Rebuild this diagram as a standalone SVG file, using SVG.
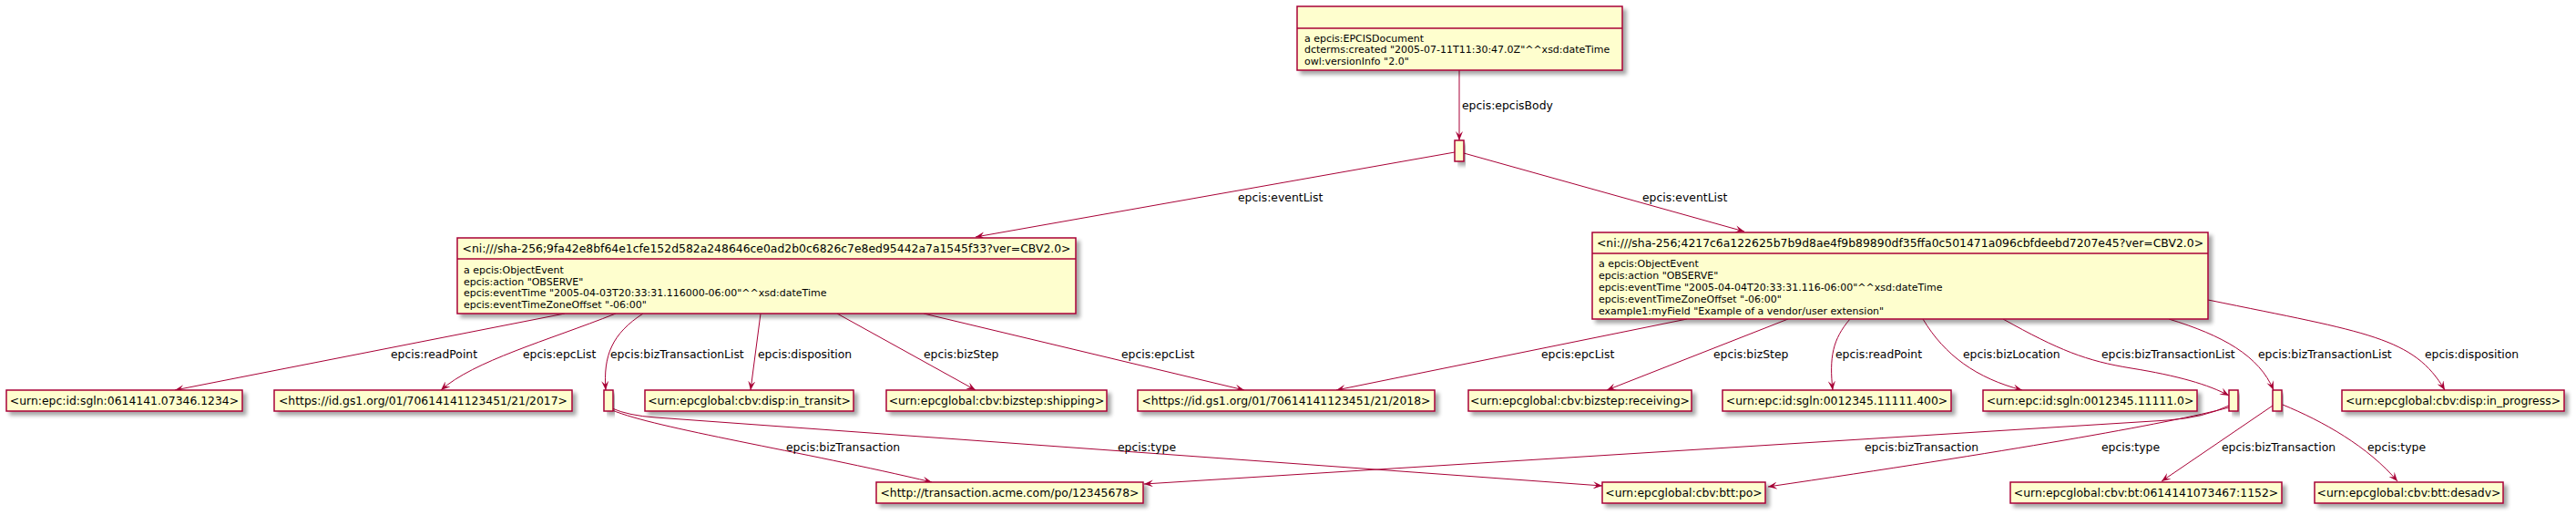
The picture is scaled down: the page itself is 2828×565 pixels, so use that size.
<svg xmlns="http://www.w3.org/2000/svg" width="2828" height="565" viewBox="0 0 2828 565">
<style>
.box{fill:#FEFECE;stroke:#A80036;stroke-width:1.5;filter:url(#sh)}
.sep{stroke:#A80036;stroke-width:1.5}
.e{fill:none;stroke:#A80036;stroke-width:1;marker-end:url(#ah)}
text{font-family:"DejaVu Sans","Liberation Sans",sans-serif;fill:#000}
.n{font-size:12.4px;text-anchor:middle}
.a{font-size:11px}
.l{font-size:12.4px}
</style>
<defs>
<filter id="sh" x="-10%" y="-30%" width="130%" height="180%">
<feGaussianBlur in="SourceAlpha" stdDeviation="2"/>
<feOffset dx="4" dy="4" result="b"/>
<feComponentTransfer><feFuncA type="linear" slope="0.35"/></feComponentTransfer>
<feMerge><feMergeNode/><feMergeNode in="SourceGraphic"/></feMerge>
</filter>
<marker id="ah" viewBox="0 0 10 8" refX="10" refY="4" markerWidth="10" markerHeight="8" orient="auto" markerUnits="userSpaceOnUse"><path d="M0,0 L10,4 L0,8 L4,4 Z" fill="#A80036"/></marker>
</defs>
<rect width="2828" height="565" fill="#FFFFFF"/>

<g id="connectors">
<path class="e" d="M1602,77 L1602,154"/>
<path class="e" d="M1597,167 L1071,260"/>
<path class="e" d="M1607,168 L1915,254"/>
<path class="e" d="M620,344 L192,428"/>
<path class="e" d="M676,344 C600,374 520,396 484,428"/>
<path class="e" d="M706,344 C672,366 662,390 665,428"/>
<path class="e" d="M835,344 L824,428"/>
<path class="e" d="M919,344 L1071,428"/>
<path class="e" d="M1014,344 L1366,428"/>
<path class="e" d="M1852,350 L1467,428"/>
<path class="e" d="M1963,350 L1764,428"/>
<path class="e" d="M2031,350 C2012,372 2008,392 2012,428"/>
<path class="e" d="M2111,350 C2135,390 2170,415 2220,428"/>
<path class="e" d="M2199,350 C2260,384 2290,396 2340,404 C2390,412 2425,422 2447,434"/>
<path class="e" d="M2381,350 C2440,368 2480,390 2496,428"/>
<path class="e" d="M2424,329 C2600,365 2650,370 2684,428"/>
<path class="e" d="M672,450 C720,470 880,495 1023,529"/>
<path class="e" d="M672,448 Q690,456 720,458 L1759,533"/>
<path class="e" d="M2447,445 Q2420,458 2380,461 L1256,531"/>
<path class="e" d="M2447,447 C2380,465 2200,496 1941,534"/>
<path class="e" d="M2495,445 L2373,528"/>
<path class="e" d="M2506,444 C2550,462 2600,490 2632,528"/>
<text class="l" x="1605" y="120">epcis:epcisBody</text>
<text class="l" x="1359" y="221">epcis:eventList</text>
<text class="l" x="1803" y="221">epcis:eventList</text>
<text class="l" x="429" y="393">epcis:readPoint</text>
<text class="l" x="574" y="393">epcis:epcList</text>
<text class="l" x="670" y="393">epcis:bizTransactionList</text>
<text class="l" x="832" y="393">epcis:disposition</text>
<text class="l" x="1014" y="393">epcis:bizStep</text>
<text class="l" x="1231" y="393">epcis:epcList</text>
<text class="l" x="1692" y="393">epcis:epcList</text>
<text class="l" x="1881" y="393">epcis:bizStep</text>
<text class="l" x="2015" y="393">epcis:readPoint</text>
<text class="l" x="2155" y="393">epcis:bizLocation</text>
<text class="l" x="2307" y="393">epcis:bizTransactionList</text>
<text class="l" x="2479" y="393">epcis:bizTransactionList</text>
<text class="l" x="2662" y="393">epcis:disposition</text>
<text class="l" x="863" y="495">epcis:bizTransaction</text>
<text class="l" x="1227" y="495">epcis:type</text>
<text class="l" x="2047" y="495">epcis:bizTransaction</text>
<text class="l" x="2307" y="495">epcis:type</text>
<text class="l" x="2439" y="495">epcis:bizTransaction</text>
<text class="l" x="2599" y="495">epcis:type</text>
</g>

<g id="doc">
<rect class="box" x="1424" y="7" width="357" height="70"/>
<line class="sep" x1="1424" y1="31" x2="1781" y2="31"/>
<text class="a" x="1432" y="45.5">a epcis:EPCISDocument</text>
<text class="a" x="1432" y="58">dcterms:created "2005-07-11T11:30:47.0Z"^^xsd:dateTime</text>
<text class="a" x="1432" y="70.5">owl:versionInfo "2.0"</text>
</g>

<g id="j1"><rect class="box" x="1597" y="154" width="10" height="23"/></g>

<g id="event1">
<rect class="box" x="502" y="261" width="679" height="83"/>
<line class="sep" x1="502" y1="284" x2="1181" y2="284"/>
<text class="n" x="841.5" y="277">&lt;ni:///sha-256;9fa42e8bf64e1cfe152d582a248646ce0ad2b0c6826c7e8ed95442a7a1545f33?ver=CBV2.0&gt;</text>
<text class="a" x="509" y="300">a epcis:ObjectEvent</text>
<text class="a" x="509" y="312.5">epcis:action "OBSERVE"</text>
<text class="a" x="509" y="325">epcis:eventTime "2005-04-03T20:33:31.116000-06:00"^^xsd:dateTime</text>
<text class="a" x="509" y="338">epcis:eventTimeZoneOffset "-06:00"</text>
</g>

<g id="event2">
<rect class="box" x="1748" y="255" width="676" height="95"/>
<line class="sep" x1="1748" y1="278" x2="2424" y2="278"/>
<text class="n" x="2086" y="271">&lt;ni:///sha-256;4217c6a122625b7b9d8ae4f9b89890df35ffa0c501471a096cbfdeebd7207e45?ver=CBV2.0&gt;</text>
<text class="a" x="1755" y="293">a epcis:ObjectEvent</text>
<text class="a" x="1755" y="306">epcis:action "OBSERVE"</text>
<text class="a" x="1755" y="319">epcis:eventTime "2005-04-04T20:33:31.116-06:00"^^xsd:dateTime</text>
<text class="a" x="1755" y="332">epcis:eventTimeZoneOffset "-06:00"</text>
<text class="a" x="1755" y="344.5">example1:myField "Example of a vendor/user extension"</text>
</g>

<g id="sgln1234"><rect class="box" x="7" y="428" width="259" height="23"/><text class="n" x="136.5" y="444">&lt;urn:epc:id:sgln:0614141.07346.1234&gt;</text></g>
<g id="gs1_2017"><rect class="box" x="301" y="428" width="327" height="23"/><text class="n" x="464.5" y="444">&lt;https://id.gs1.org/01/70614141123451/21/2017&gt;</text></g>
<g id="j2"><rect class="box" x="663" y="428" width="10" height="23"/></g>
<g id="in_transit"><rect class="box" x="708" y="428" width="229" height="23"/><text class="n" x="822.5" y="444">&lt;urn:epcglobal:cbv:disp:in_transit&gt;</text></g>
<g id="shipping"><rect class="box" x="973" y="428" width="242" height="23"/><text class="n" x="1094" y="444">&lt;urn:epcglobal:cbv:bizstep:shipping&gt;</text></g>
<g id="gs1_2018"><rect class="box" x="1249" y="428" width="326" height="23"/><text class="n" x="1412" y="444">&lt;https://id.gs1.org/01/70614141123451/21/2018&gt;</text></g>
<g id="receiving"><rect class="box" x="1612" y="428" width="245" height="23"/><text class="n" x="1734.5" y="444">&lt;urn:epcglobal:cbv:bizstep:receiving&gt;</text></g>
<g id="sgln400"><rect class="box" x="1891" y="428" width="251" height="23"/><text class="n" x="2016.5" y="444">&lt;urn:epc:id:sgln:0012345.11111.400&gt;</text></g>
<g id="sgln0"><rect class="box" x="2177" y="428" width="235" height="23"/><text class="n" x="2294.5" y="444">&lt;urn:epc:id:sgln:0012345.11111.0&gt;</text></g>
<g id="j3"><rect class="box" x="2447" y="428" width="10" height="23"/></g>
<g id="j4"><rect class="box" x="2495" y="428" width="10" height="23"/></g>
<g id="in_progress"><rect class="box" x="2571" y="428" width="244" height="23"/><text class="n" x="2693" y="444">&lt;urn:epcglobal:cbv:disp:in_progress&gt;</text></g>

<g id="acme"><rect class="box" x="962" y="529" width="293" height="23"/><text class="n" x="1108.5" y="545">&lt;http://transaction.acme.com/po/12345678&gt;</text></g>
<g id="btt_po"><rect class="box" x="1759" y="529" width="179" height="23"/><text class="n" x="1848.5" y="545">&lt;urn:epcglobal:cbv:btt:po&gt;</text></g>
<g id="bt1152"><rect class="box" x="2207" y="529" width="298" height="23"/><text class="n" x="2356" y="545">&lt;urn:epcglobal:cbv:bt:0614141073467:1152&gt;</text></g>
<g id="desadv"><rect class="box" x="2541" y="529" width="207" height="23"/><text class="n" x="2644.5" y="545">&lt;urn:epcglobal:cbv:btt:desadv&gt;</text></g>
</svg>
